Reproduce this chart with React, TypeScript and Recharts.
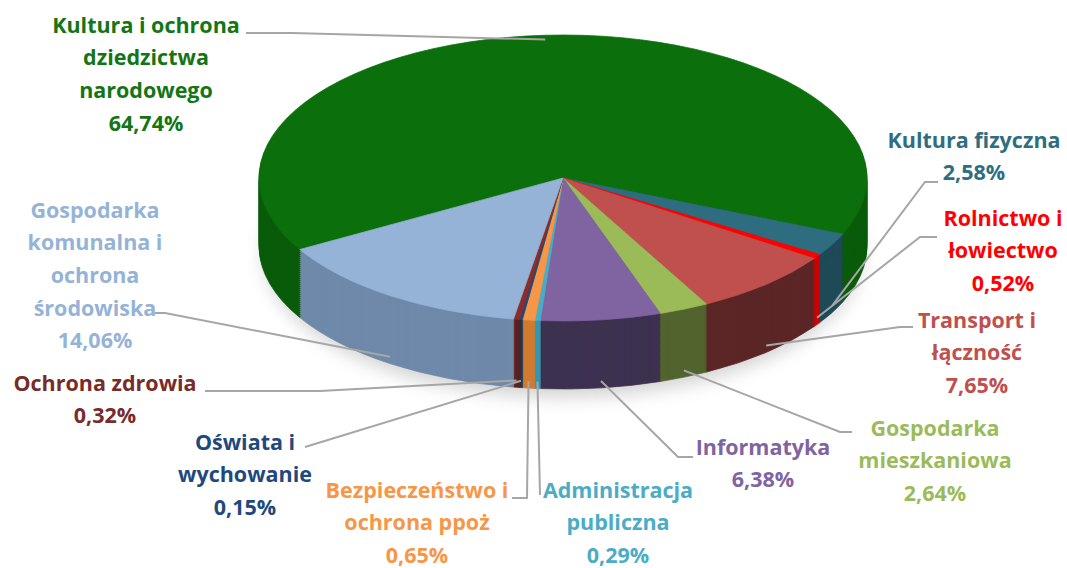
import React from 'react';
import { PieChart, Pie, Cell } from 'recharts';

const categories = [
  'Kultura i ochrona dziedzictwa narodowego',
  'Kultura fizyczna',
  'Rolnictwo i łowiectwo',
  'Transport i łączność',
  'Gospodarka mieszkaniowa',
  'Informatyka',
  'Administracja publiczna',
  'Bezpieczeństwo i ochrona ppoż',
  'Oświata i wychowanie',
  'Ochrona zdrowia',
  'Gospodarka komunalna i ochrona środowiska',
];
const shares = [64.74, 2.58, 0.52, 7.65, 2.64, 6.38, 0.29, 0.65, 0.15, 0.32, 14.06];
const wrappedNames = [
  ['Kultura i ochrona', 'dziedzictwa', 'narodowego'],
  ['Kultura fizyczna'],
  ['Rolnictwo i', 'łowiectwo'],
  ['Transport i', 'łączność'],
  ['Gospodarka', 'mieszkaniowa'],
  ['Informatyka'],
  ['Administracja', 'publiczna'],
  ['Bezpieczeństwo i', 'ochrona ppoż'],
  ['Oświata i', 'wychowanie'],
  ['Ochrona zdrowia'],
  ['Gospodarka', 'komunalna i', 'ochrona', 'środowiska'],
];

const topColors = ['#0b6f0b', '#2e6c80', '#ff0000', '#c0504d', '#9bbb59', '#8064a2', '#4bacc6', '#f79646', '#1f497d', '#8b2e2b', '#95b3d7'];
const wallColors = ['#0a5c0a', '#1f4a58', '#d00000', '#5c2626', '#52632e', '#3d3150', '#3596ae', '#d07a30', '#1b3658', '#5e1f1d', '#6f89aa'];
const textColors = ['#137513', '#2e6e80', '#ff0000', '#c0504d', '#9bbb59', '#8064a2', '#4bacc6', '#f79646', '#1f497d', '#772c2a', '#95b3d7'];

// label text placement (center x, first line center y) and leader start/elbow
const labelLayout = [
  { x: 146, y: 25, ax: 246, ay: 33, ex: 292 },
  { x: 974, y: 140, ax: 938, ay: 182, ex: 925 },
  { x: 1003, y: 218, ax: 937, ay: 237, ex: 920 },
  { x: 977, y: 320, ax: 913, ay: 327, ex: 900 },
  { x: 935, y: 428, ax: 852, ay: 432, ex: 840 },
  { x: 763, y: 447, ax: 693, ay: 457, ex: 678 },
  { x: 618, y: 490, ax: 540, ay: 495, ex: 540 },
  { x: 417, y: 490, ax: 512, ay: 498, ex: 527 },
  { x: 245, y: 442, ax: 305, ay: 447, ex: 305 },
  { x: 105, y: 383, ax: 205, ay: 391, ex: 320 },
  { x: 95, y: 210, ax: 155, ay: 313, ex: 165 },
];

const W = 1067;
const H = 568;
const CX = 563;
const CY = 178;
const RX = 304;
const RY = 143;
const K = RY / RX;
const DEPTH = 68;
const START = 210;
const LH = 32.7;
const PAD = 4;
const DISC_H = 2 * RX + 2 * PAD;

const data = categories.map((name, i) => ({ name, value: shares[i] }));

const fmt = (v: number) => v.toFixed(2).replace('.', ',') + '%';

const renderLabel = (props: any) => {
  const { index, midAngle } = props;
  const L = labelLayout[index];
  const rad = (midAngle * Math.PI) / 180;
  const c = Math.cos(rad);
  const s = Math.sin(rad);
  let px: number;
  let py: number;
  if (s > 0) {
    px = CX + RX * 0.97 * c;
    py = CY - RY * 0.97 * s;
  } else {
    px = CX + RX * c;
    py = CY - RY * s + DEPTH * 0.9;
  }
  const lines = [...wrappedNames[index], fmt(shares[index])];
  return (
    <g key={`lbl-${index}`}>
      <polyline
        points={`${L.ax},${L.ay} ${L.ex},${L.ay} ${px},${py}`}
        fill="none"
        stroke="#a6a6a6"
        strokeWidth={2}
      />
      <text
        textAnchor="middle"
        fill={textColors[index]}
        fontFamily="'Open Sans', Lato, sans-serif"
        fontWeight="bold"
        fontSize={21.5}
      >
        {lines.map((t, j) => (
          <tspan key={j} x={L.x} y={L.y + j * LH + 7.5}>
            {t}
          </tspan>
        ))}
      </text>
    </g>
  );
};

const layers: number[] = [];
for (let d = DEPTH; d >= 1; d -= 2) layers.push(d);

function Disc({ offset, colors }: { offset: number; colors: string[] }) {
  return (
    <div
      style={{
        position: 'absolute',
        left: 0,
        top: CY - RX - PAD,
        width: W,
        height: DISC_H,
        transformOrigin: `0px ${RX + PAD}px`,
        transform: `translateY(${offset}px) scaleY(${K})`,
      }}
    >
      <PieChart width={W} height={DISC_H} margin={{ top: 0, right: 0, bottom: 0, left: 0 }}>
        <Pie
          data={data}
          dataKey="value"
          cx={CX}
          cy={RX + PAD}
          outerRadius={RX}
          startAngle={START}
          endAngle={START - 360}
          isAnimationActive={false}
          stroke="none"
        >
          {data.map((_, i) => (
            <Cell key={i} fill={colors[i]} stroke={colors[i]} strokeWidth={1} />
          ))}
        </Pie>
      </PieChart>
    </div>
  );
}

export default function App() {
  return (
    <div style={{ position: 'absolute', left: 0, top: 0, width: W, height: H, background: '#fff', overflow: 'hidden' }}>
      <div
        style={{
          position: 'absolute',
          left: CX - RX + 5,
          top: CY - RY + DEPTH + 8,
          width: 2 * RX - 10,
          height: 2 * RY,
          borderRadius: '50%',
          background: 'rgba(0,0,0,0.18)',
          filter: 'blur(9px)',
        }}
      />
      {layers.map((d) => (
        <Disc key={`wall-${d}`} offset={d} colors={wallColors} />
      ))}
      <Disc offset={0} colors={topColors} />
      <div style={{ position: 'absolute', left: 0, top: 0 }}>
        <PieChart width={W} height={H} margin={{ top: 0, right: 0, bottom: 0, left: 0 }}>
          <Pie
            data={data}
            dataKey="value"
            cx={CX}
            cy={CY}
            outerRadius={RX}
            startAngle={START}
            endAngle={START - 360}
            isAnimationActive={false}
            fill="none"
            stroke="none"
            label={renderLabel}
            labelLine={false}
          />
        </PieChart>
      </div>
    </div>
  );
}
